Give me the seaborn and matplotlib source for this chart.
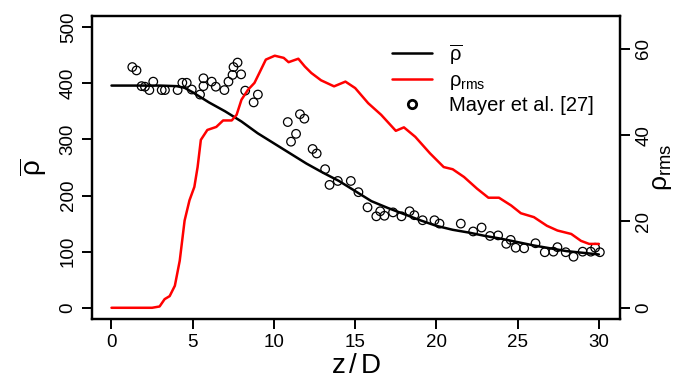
import matplotlib
matplotlib.use("Agg")
import matplotlib.pyplot as plt
import seaborn as sns
import pandas as pd
from matplotlib.lines import Line2D

# mean density curve
z_mean = [0, 1, 2, 3, 4, 4.5, 5, 5.5, 6, 7, 8, 9, 10, 11, 12, 13, 14, 15, 16,
          17, 18, 19, 20, 21, 22, 23, 24, 25, 26, 27, 28, 29, 30]
rho_mean = [396, 396, 396, 396, 395, 392, 384, 375, 366, 350, 332, 311, 293,
            275, 257, 241, 226, 208, 190, 178, 167, 156, 146, 139, 134, 128,
            123, 117, 111, 106, 101, 98, 95]

# rms density curve
z_rms = [0, 2.5, 2.96, 3.27, 3.58, 3.9, 4.2, 4.5, 4.8, 5.1, 5.3, 5.5, 5.9, 6.45,
         6.87, 7.4, 7.7, 8.0, 8.4, 8.8, 9.1, 9.5, 10.05, 10.6, 10.9, 11.5, 11.9,
         12.3, 12.9, 13.7, 14.4, 15.0, 15.8, 16.6, 17.5, 18.0, 18.7, 19.6, 20.45,
         21.0, 21.7, 22.5, 23.2, 23.85, 24.6, 25.2, 26.0, 26.8, 27.45, 28.3,
         28.9, 29.4, 30.0]
rho_rms = [0, 0, 0.3, 2.0, 2.7, 5.1, 10.9, 20.2, 24.9, 28.0, 32.6, 38.9, 41.2,
           41.9, 43.4, 43.4, 44.7, 48.2, 50.5, 52.1, 54.4, 57.5, 58.4, 57.9,
           56.9, 57.7, 55.9, 54.4, 52.7, 51.3, 52.4, 50.9, 47.4, 44.7, 41.0,
           41.8, 39.6, 35.8, 32.6, 32.1, 30.3, 27.6, 25.5, 25.5, 23.7, 21.9,
           21.0, 19.0, 17.9, 17.1, 15.5, 14.8, 14.8]

# Mayer et al. [27] data
z_exp = [1.28, 1.54, 1.85, 2.06, 2.33, 2.57, 3.09, 3.29, 4.07, 4.36, 4.63, 4.94,
         5.45, 5.66, 5.66, 6.17, 6.42, 6.95, 7.2, 7.45, 7.51, 7.76, 7.98, 8.23,
         8.75, 9.01, 10.85, 11.6, 11.87, 11.36, 11.05, 12.38, 12.63, 13.15,
         13.42, 13.93, 14.73, 15.2, 15.76, 16.3, 16.54, 16.8, 17.33, 17.85,
         18.35, 18.64, 19.15, 19.88, 20.19, 21.5, 22.26, 22.78, 23.3, 23.8,
         24.3, 24.57, 24.88, 25.4, 26.1, 26.67, 27.2, 27.45, 27.96, 28.44,
         29.0, 29.5, 29.77, 30.06]
rho_exp = [429, 423, 395, 394, 388, 403, 388, 388, 388, 401, 401, 389, 380,
           409, 395, 403, 394, 388, 403, 415, 429, 437, 416, 387, 366, 380,
           331, 345, 337, 310, 296, 283, 275, 247, 219, 226, 226, 206, 179,
           163, 172, 164, 170, 163, 172, 165, 156, 156, 150, 150, 136, 143,
           128, 129, 114, 121, 107, 106, 115, 99, 100, 108, 99, 91, 100, 100,
           107, 99]

sns.set_style("ticks")
plt.rcParams["font.family"] = ["Liberation Sans", "DejaVu Sans"]
plt.rcParams["mathtext.fontset"] = "custom"
plt.rcParams["mathtext.rm"] = "Liberation Sans"
plt.rcParams["mathtext.it"] = "Liberation Sans"
plt.rcParams["mathtext.bf"] = "Liberation Sans:bold"
for k in ["text.color", "axes.labelcolor", "xtick.color", "ytick.color",
          "axes.edgecolor"]:
    plt.rcParams[k] = "black"

df_mean = pd.DataFrame({"z": z_mean, "v": rho_mean})
df_rms = pd.DataFrame({"z": z_rms, "v": rho_rms})
df_exp = pd.DataFrame({"z": z_exp, "v": rho_exp})

fig = plt.figure(figsize=(6.81, 3.83), dpi=100)
ax = fig.add_axes([92 / 681, 1 - 319 / 383, (620 - 92) / 681, (319 - 16) / 383])
ax2 = ax.twinx()

sns.lineplot(data=df_mean, x="z", y="v", ax=ax, color="black", lw=1.8,
             legend=False)
sns.scatterplot(data=df_exp, x="z", y="v", ax=ax, marker="o", s=38,
                facecolor="none", edgecolor="black", linewidth=0.9,
                legend=False, zorder=3)
sns.lineplot(data=df_rms, x="z", y="v", ax=ax2, color="#ff0000", lw=1.8,
             legend=False)

ax.set_xlim(-1.2, 31.3)
ax.set_ylim(-20, 520)
ax2.set_ylim(-2.6, 67.6)

ax.set_xticks([0, 5, 10, 15, 20, 25, 30])
ax.set_yticks([0, 100, 200, 300, 400, 500])
ax2.set_yticks([0, 20, 40, 60])

for a in (ax, ax2):
    for s in a.spines.values():
        s.set_linewidth(1.6)
        s.set_color("black")
    a.tick_params(direction="out", length=7, width=1.4, labelsize=13.5,
                  colors="black", pad=4)
for lbl in ax.get_yticklabels() + ax2.get_yticklabels():
    lbl.set_rotation(90)
    lbl.set_va("center")

ax.set_xlabel(r"z$\,$/$\,$D", fontsize=20, labelpad=1)
ax.set_ylabel(r"$\overline{\rho}$", fontsize=20, labelpad=8)
ax2.set_ylabel(r"$\rho_{\mathrm{rms}}$", fontsize=19, labelpad=-2)

handles = [
    Line2D([], [], color="black", lw=1.8),
    Line2D([], [], color="#ff0000", lw=1.8),
    Line2D([], [], color="black", marker="o", markerfacecolor="none",
           markeredgewidth=2.0, markersize=6, lw=0),
]
labels = [r"$\overline{\rho}$", r"$\rho_{\mathrm{rms}}$", "Mayer et al. [27]"]
ax.legend(handles, labels, loc="upper left", bbox_to_anchor=(0.553, 0.94),
          frameon=False, fontsize=14.5, handlelength=2.0, handletextpad=0.85,
          labelspacing=0.2, borderaxespad=0)

fig.savefig("out.png", dpi=100)
